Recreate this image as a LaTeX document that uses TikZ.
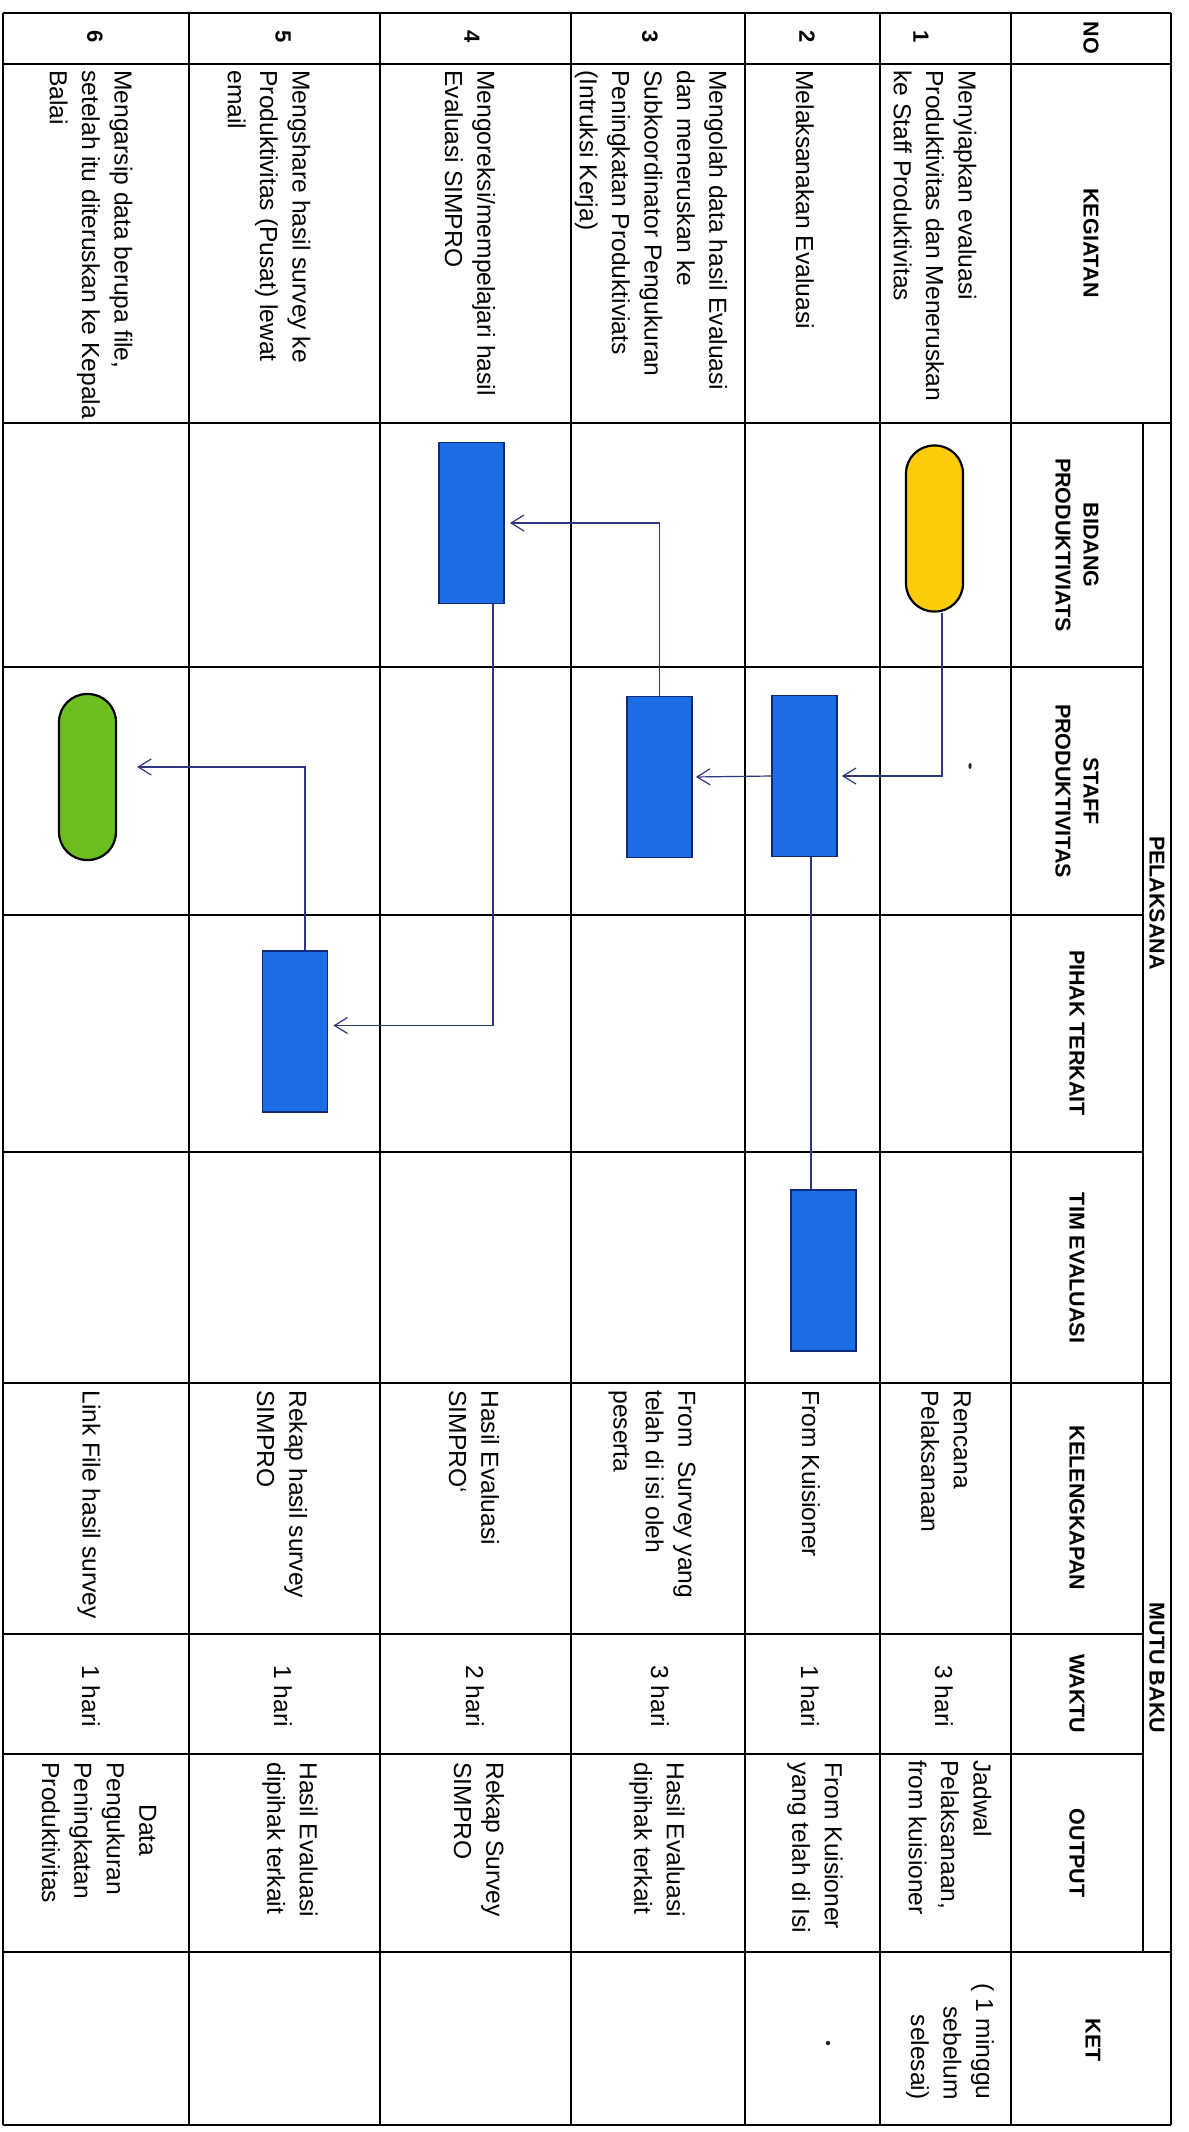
\documentclass[tikz,border=0pt]{standalone}
\usepackage{fontspec}
\setmainfont{Liberation Sans}
\usetikzlibrary{arrows.meta}
\definecolor{procblue}{RGB}{28,108,228}
\definecolor{procline}{RGB}{16,40,120}
\definecolor{termyellow}{RGB}{252,204,10}
\definecolor{termgreen}{RGB}{108,190,30}
\definecolor{connc}{RGB}{45,55,125}
\tikzset{
  hline/.style={line width=1.2pt},
  vline/.style={line width=1pt},
  txt/.style={rotate=-90, inner sep=0pt, anchor=west, align=left, font=\fontsize{12.3}{16.2}\selectfont},
  txtc/.style={rotate=-90, inner sep=0pt, anchor=center, align=center, font=\fontsize{12.3}{16.2}\selectfont},
  txtr/.style={rotate=-90, inner sep=0pt, anchor=east, align=right, font=\fontsize{12.3}{16.2}\selectfont},
  hdr/.style={rotate=-90, inner sep=0pt, align=center, font=\fontsize{10.75}{14}\selectfont\bfseries},
  num/.style={rotate=-90, inner sep=0pt, font=\fontsize{11}{13}\selectfont\bfseries},
  proc/.style={draw=procline, fill=procblue, line width=0.9pt, minimum width=32.5pt, minimum height=80.5pt, inner sep=0pt},
  term/.style={draw=black, line width=1.1pt, minimum width=28.5pt, minimum height=83pt, rounded corners=14pt, inner sep=0pt},
  conn/.style={draw=connc, line width=0.6pt},
  arr/.style={conn, -{Straight Barb[length=6.5pt,width=8pt]}},
}
\begin{document}
\begin{tikzpicture}[x=0.5pt,y=-0.5pt]
\useasboundingbox (0,0) rectangle (1189,2132);
\fill[white] (0,0) rectangle (1189,2132);

% horizontal lines
\foreach \yy in {13,64,423,1383,1952,2125} \draw[hline] (3,\yy) -- (1171,\yy);
\foreach \yy in {667,915,1152,1634,1754} \draw[hline] (3,\yy) -- (1143,\yy);
% vertical lines
\foreach \xx in {3,189,380,571,745,880,1011,1171} \draw[vline] (\xx,13) -- (\xx,2125);
\draw[vline] (1143,423) -- (1143,1952);

% headers
\node[hdr] (hNO)  at (1091,38)   {NO};
\node[hdr] (hKEG) at (1091,243)  {KEGIATAN};
\node[hdr] (hBID) at (1077,545)  {BIDANG\\PRODUKTIVIATS};
\node[hdr] (hSTF) at (1077,791)  {STAFF\\PRODUKTIVITAS};
\node[hdr] (hPIH) at (1077,1033) {PIHAK TERKAIT};
\node[hdr] (hTIM) at (1077,1268) {TIM EVALUASI};
\node[hdr] (hKEL) at (1077,1508) {KELENGKAPAN};
\node[hdr] (hWAK) at (1077,1694) {WAKTU};
\node[hdr] (hOUT) at (1077,1853) {OUTPUT};
\node[hdr] (hPEL) at (1157,903)  {PELAKSANA};
\node[hdr] (hMUT) at (1157,1668) {MUTU BAKU};
\node[hdr] (hKET) at (1093,2040) {KET};

% row numbers
\node[num] (n1) at (921,37) {1};
\node[num] (n2) at (807,37) {2};
\node[num] (n3) at (650,37) {3};
\node[num] (n4) at (472,37) {4};
\node[num] (n5) at (283,37) {5};
\node[num] (n6) at (95,37)  {6};

% kegiatan
\node[txt] (k1) at (935,70) {Menyiapkan evaluasi\\Produktivitas dan Meneruskan\\ke Staff Produktivitas};
\node[txt] (k2) at (805,70) {Melaksanakan Evaluasi};
\node[txt] (k3) at (651,70) {Mengolah data hasil Evaluasi\\dan meneruskan ke\\Subkoordinator Pengukuran\\Peningkatan Produktiviats\\(Intruksi Kerja)};
\node[txt] (k4) at (470,70) {Mengoreksi/mempelajari hasil\\Evaluasi SIMPRO};
\node[txt] (k5) at (269,70) {Mengshare hasil survey ke\\Produktivitas (Pusat) lewat\\email};
\node[txt] (k6) at (91,70)  {Mengarsip data berupa file,\\setelah itu diteruskan ke Kepala\\Balai};

% kelengkapan
\node[txt] (l1) at (946,1390) {Rencana\\Pelaksanaan};
\node[txt] (l2) at (811,1390) {From Kuisioner};
\node[txt] (l3) at (652,1390) {From\ \ Survey yang\\telah di isi oleh\\peserta};
\node[txt] (l4) at (474,1390) {Hasil Evaluasi\\SIMPRO`};
\node[txt] (l5) at (282,1390) {Rekap hasil survey\\SIMPRO};
\node[txt] (l6) at (89,1390)  {Link File hasil survey};

% waktu
\node[txtc] (w1) at (944,1696) {3 hari};
\node[txtc] (w2) at (810,1696) {1 hari};
\node[txtc] (w3) at (660,1696) {3 hari};
\node[txtc] (w4) at (475,1696) {2 hari};
\node[txtc] (w5) at (283,1696) {1 hari};
\node[txtc] (w6) at (91,1696)  {1 hari};

% output
\node[txt] (o1) at (950,1760) {Jadwal\\Pelaksanaan,\\from kuisioner};
\node[txt] (o2) at (815,1762) {From Kuisioner\\yang telah di Isi};
\node[txt] (o3) at (657,1762) {Hasil Evaluasi\\dipihak terkait};
\node[txt] (o4) at (479,1762) {Rekap Survey\\SIMPRO};
\node[txt] (o5) at (290,1762) {Hasil Evaluasi\\dipihak terkait};
\node[txt] (o6) at (99,1762)  {\hspace*{21pt}Data\\Pengukuran\\Peningkatan\\Produktivitas};

% ket
\node[txtr] (t1) at (950,2100) {( 1 minggu\\sebelum\\selesai)};

% stray scan marks
\fill[black!85] (828,2043) circle (2.2);
\fill[black!85] (970,766) ellipse (1.6 and 3);

% flow shapes
\node[term, fill=termyellow] (Y)  at (934.5,528.5) {};
\node[term, fill=termgreen]  (G)  at (87.5,777) {};
\node[proc] (B1) at (471.5,523) {};
\node[proc] (S2) at (804.5,776) {};
\node[proc] (S3) at (659.5,777) {};
\node[proc] (P5) at (295,1031.5) {};
\node[proc] (T2) at (823.5,1270.5) {};

% connectors
\draw[arr, shorten >=2pt] ([xshift=3.75pt]Y.south) |- (S2.east);
\draw[arr, shorten >=1.5pt] (S2.west) -- (S3.east);
\draw[conn] ([xshift=3.25pt]S2.south) -- ([xshift=3.25pt]S2.south |- T2.north);
\draw[arr, shorten >=2.5pt] (S3.north) |- (B1.east);
\draw[arr, shorten >=2.5pt] ([xshift=10.75pt]B1.south) |- ([yshift=3pt]P5.east);
\draw[arr, shorten >=10pt] ([xshift=5pt]P5.north) |- ([yshift=5pt]G.east);
\end{tikzpicture}
\end{document}
